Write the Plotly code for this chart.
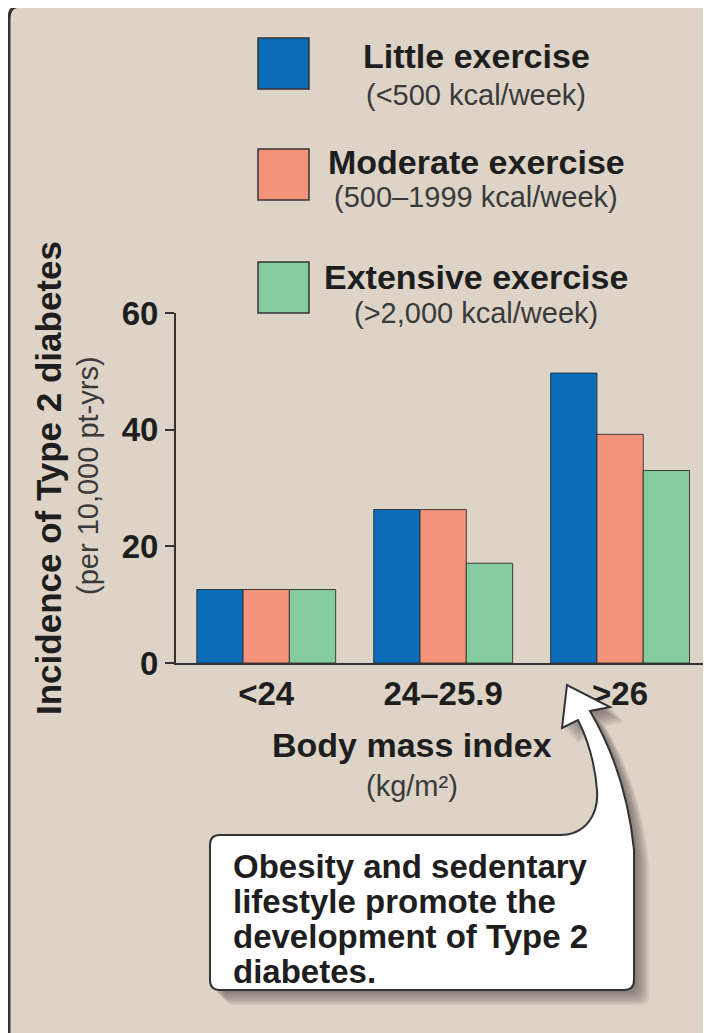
import plotly.graph_objects as go

# ---------------- data ----------------
categories = ["<24", "24–25.9", ">26"]
little_exercise = [12.6, 26.3, 49.7]
moderate_exercise = [12.6, 26.3, 39.2]
extensive_exercise = [12.6, 17.1, 33.0]

series_names = ["Little exercise", "Moderate exercise", "Extensive exercise"]
series_notes = ["(<500 kcal/week)", "(500–1999 kcal/week)", "(>2,000 kcal/week)"]
series_values = [little_exercise, moderate_exercise, extensive_exercise]
series_colors = ["#0A6DBA", "#F4937A", "#84CC9E"]

y_ticks = [0, 20, 40, 60]
callout_lines = ["Obesity and sedentary", "lifestyle promote the",
                 "development of Type 2", "diabetes."]

# ---------------- layout geometry (page pixels; the page has an 8px body margin) ----------------
PAGE_W, PAGE_H = 711, 1033
OX, OY = 8, 8
W, H = PAGE_W - OX, PAGE_H - OY
PLOT_LEFT, PLOT_RIGHT, PLOT_TOP, PLOT_BOTTOM = 176, 705, 313, 663   # page px
L = PLOT_LEFT - OX
R = OX + W - PLOT_RIGHT
T = PLOT_TOP - OY
B = OY + H - PLOT_BOTTOM
PW, PH = W - L - R, H - T - B
BG = "#DDD3C7"
FONT = "Liberation Sans"
DARK = "#1E1E1E"
GREY = "#3A3A3A"


def xp(px):
    return (px - PLOT_LEFT) / PW


def yp(py):
    return (PLOT_BOTTOM - py) / PH


def path(cmds):
    out = []
    for c in cmds:
        op, pts = c[0], c[1:]
        coords = " ".join(f"{xp(pts[i]):.5f},{yp(pts[i+1]):.5f}" for i in range(0, len(pts), 2))
        out.append(f"{op}{coords}")
    return " ".join(out) + " Z"


fig = go.Figure()
for name, vals, col in zip(series_names, series_values, series_colors):
    fig.add_trace(go.Bar(
        x=categories, y=vals, name=name,
        marker=dict(color=col, line=dict(color="rgba(40,40,40,0.85)", width=1)),
        showlegend=False, hoverinfo="skip",
    ))

shapes = []
# outer frame with rounded top-left corner
frame = [("M", 9, 1045), ("L", 9, 18), ("Q", 9, 6, 21, 6), ("L", 725, 6), ("L", 725, 1045)]
shapes.append(dict(type="path", xref="paper", yref="paper", path=path(frame),
                   fillcolor=BG, line=dict(color="#333333", width=3), layer="below"))

# callout bubble with curved arrow
def bubble(dx=0, dy=0):
    return [
        ("M", 220 + dx, 835 + dy), ("L", 560 + dx, 835 + dy),
        ("C", 585 + dx, 835 + dy, 599 + dx, 815 + dy, 597 + dx, 790 + dy),
        ("C", 595 + dx, 765 + dy, 588 + dx, 740 + dy, 578 + dx, 720 + dy),
        ("L", 562 + dx, 728 + dy), ("L", 567 + dx, 685 + dy), ("L", 610 + dx, 707 + dy),
        ("L", 590 + dx, 711 + dy),
        ("C", 610 + dx, 745 + dy, 628 + dx, 790 + dy, 634 + dx, 850 + dy),
        ("L", 634 + dx, 980 + dy), ("Q", 634 + dx, 990 + dy, 624 + dx, 990 + dy),
        ("L", 220 + dx, 990 + dy), ("Q", 210 + dx, 990 + dy, 210 + dx, 980 + dy),
        ("L", 210 + dx, 845 + dy), ("Q", 210 + dx, 835 + dy, 220 + dx, 835 + dy),
    ]

for k in range(1, 10):
    shapes.append(dict(type="path", xref="paper", yref="paper", path=path(bubble(k * 1.7, k * 1.7)),
                       fillcolor="rgba(60,50,45,0.08)", line=dict(width=0), layer="above"))
shapes.append(dict(type="path", xref="paper", yref="paper", path=path(bubble()),
                   fillcolor="white", line=dict(color="#333333", width=2), layer="above"))

# legend squares
sq_tops = [38, 149, 262]
for col, top in zip(series_colors, sq_tops):
    shapes.append(dict(type="rect", xref="paper", yref="paper",
                       x0=xp(258), x1=xp(309), y0=yp(top), y1=yp(top + 51),
                       fillcolor=col, line=dict(color="#333333", width=1.5), layer="above"))

annotations = []
name_y = [56, 162, 277]
note_y = [95, 197, 313]
for nm, nt, ny, ty in zip(series_names, series_notes, name_y, note_y):
    annotations.append(dict(x=xp(476), y=yp(ny), xref="paper", yref="paper", text=nm,
                            showarrow=False, xanchor="center", yanchor="middle",
                            font=dict(family=FONT, size=34, color=DARK, weight="bold")))
    annotations.append(dict(x=xp(476), y=yp(ty), xref="paper", yref="paper", text=nt,
                            showarrow=False, xanchor="center", yanchor="middle",
                            font=dict(family=FONT, size=29, color=GREY)))

# y titles
annotations.append(dict(x=xp(48), y=yp(478), xref="paper", yref="paper",
                        text="Incidence of Type 2 diabetes", textangle=-90, showarrow=False,
                        xanchor="center", yanchor="middle",
                        font=dict(family=FONT, size=35, color=DARK, weight="bold")))
annotations.append(dict(x=xp(88), y=yp(476), xref="paper", yref="paper",
                        text="(per 10,000 pt-yrs)", textangle=-90, showarrow=False,
                        xanchor="center", yanchor="middle",
                        font=dict(family=FONT, size=29, color=GREY)))
# x titles
annotations.append(dict(x=xp(412), y=yp(745), xref="paper", yref="paper",
                        text="Body mass index", showarrow=False,
                        xanchor="center", yanchor="middle",
                        font=dict(family=FONT, size=34, color=DARK, weight="bold")))
annotations.append(dict(x=xp(412), y=yp(786), xref="paper", yref="paper",
                        text="(kg/m²)", showarrow=False,
                        xanchor="center", yanchor="middle",
                        font=dict(family=FONT, size=29, color=GREY)))
# callout text
for i, line in enumerate(callout_lines):
    annotations.append(dict(x=xp(231), y=yp(866 + i * 35), xref="paper", yref="paper",
                            text=line, showarrow=False, xanchor="left", yanchor="middle",
                            font=dict(family=FONT, size=33, color=DARK, weight="bold")))

fig.update_layout(
    width=W, height=H,
    margin=dict(l=L, r=R, t=T, b=B, pad=0),
    paper_bgcolor="white", plot_bgcolor="rgba(0,0,0,0)",
    barmode="group", bargap=0.215, bargroupgap=0,
    shapes=shapes, annotations=annotations,
    xaxis=dict(range=[-0.51, 2.48], showline=True, linecolor="#333333", linewidth=2,
               ticks="", showgrid=False, zeroline=False, fixedrange=True,
               tickfont=dict(family=FONT, size=33, color=DARK, weight="bold")),
    yaxis=dict(range=[0, 60], tickvals=y_ticks, showline=True, linecolor="#333333",
               linewidth=2, ticks="outside", ticklen=9, tickwidth=2, tickcolor="#333333",
               showgrid=False, zeroline=False, fixedrange=True,
               tickfont=dict(family=FONT, size=33, color=DARK, weight="bold")),
)

fig.write_html("out.html")
